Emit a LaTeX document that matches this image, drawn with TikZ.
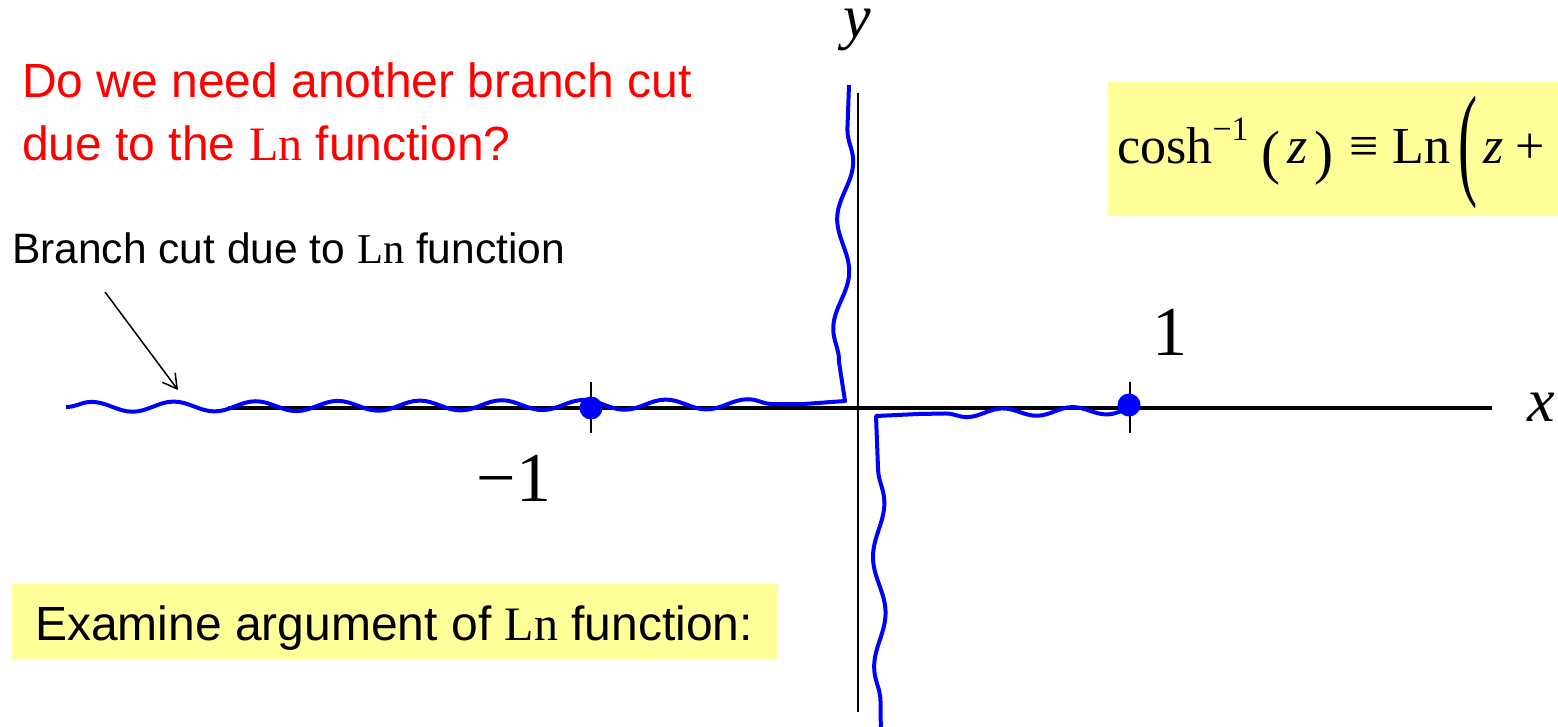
\documentclass[tikz,border=0pt]{standalone}
\usepackage{fontspec}
\setmainfont{Liberation Sans}
\newfontfamily\tms{Liberation Serif}
\usepackage{graphicx}
\usetikzlibrary{arrows.meta, decorations.pathmorphing}

\definecolor{hilite}{HTML}{FFFF99}
\definecolor{cutblue}{HTML}{0000FF}
\newcommand{\Ln}{{\tms Ln}}

\begin{document}
\begin{tikzpicture}[
  x=1pt, y=-1pt,
  txt/.style={inner sep=0pt, anchor=base west},
  big/.style={font=\fontsize{48}{63}\selectfont},
  numlab/.style={inner sep=0pt, anchor=base, font=\tms\fontsize{70}{70}\selectfont},
  axlab/.style={inner sep=0pt, anchor=base west, font=\tms\itshape\fontsize{62}{62}\selectfont},
  axis/.style={line width=3.5pt},
  tickmark/.style={line width=2pt},
  cutline/.style={cutblue, line width=4pt, line join=round},
  cut/.style={cutline, decorate, decoration={snake, amplitude=5pt, segment length=82pt}},
  vcut/.style={cutline, decorate, decoration={snake, amplitude=7pt, segment length=110pt}},
  dot/.style={circle, fill=cutblue, inner sep=0pt, minimum size=23pt},
  hbox/.style={fill=hilite, inner sep=0pt}
]
\useasboundingbox (0,0) rectangle (1558,726);

% highlighted boxes
\node[hbox, anchor=north west, minimum width=470pt, minimum height=134pt] (defbox) at (1108,82) {};
\node[txt, font=\tms\fontsize{52}{60}\selectfont] (defn) at (1117,163)
  {cosh\raisebox{0.44em}{\fontsize{34}{34}\selectfont −1}\hspace{13pt}\raisebox{-9pt}{\scalebox{1.1}[1.15]{(}}\hspace{7pt}\textit{z}\hspace{7pt}\raisebox{-9pt}{\scalebox{1.1}[1.15]{)}}\hspace{15pt}≡\hspace{14pt}Ln\hspace{8pt}\raisebox{-19pt}{\scalebox{1.1}[2.4]{(}}\hspace{6pt}\textit{z}\hspace{12pt}+\hspace{12pt}(\textit{z}+1)};
\node[hbox, anchor=north west, minimum width=766pt, minimum height=76pt] (exambox) at (12,584) {};
\node[txt, big] (exam) at (35,640) {Examine argument of \Ln\ function:};

% texts
\node[txt, big, red, align=left] (quest) at (22,160) {Do we need another branch cut\\due to the \Ln\ function?};
\node[txt, font=\fontsize{42.5}{50}\selectfont] (cutlab) at (12,263) {Branch cut due to \Ln\ function};

% axes
\coordinate (xmin) at (228,408);
\coordinate (xmax) at (1492,408);
\coordinate (ymin) at (858,712);
\coordinate (ymax) at (858,93);
\draw[axis] (xmin) -- (xmax);
\draw[line width=2.5pt] (ymin) -- (ymax);
\node[axlab] (xlab) at (1527,421) {x};
\node[axlab] (ylab) at (843,37) {y};

% ticks and labels
\draw[tickmark] (591,382) -- (591,433);
\draw[tickmark] (1130,382) -- (1130,433);
\node[numlab] (mone) at (514,501) {−1};
\node[numlab] (one) at (1170,355) {1};

% branch cuts
\coordinate (c1) at (66,407);
\coordinate (c2) at (804,404);
\coordinate (c3) at (845,401);
\coordinate (c4) at (839,362);
\coordinate (c5) at (849,85);
\draw[cut] (c1) -- (c2);
\draw[cutline] (c2) -- (c3) -- (c4);
\draw[vcut] (c4) -- (c5);
\coordinate (d1) at (1129,410);
\coordinate (d2) at (918,414);
\coordinate (d3) at (876,416);
\coordinate (d4) at (878,468);
\coordinate (d5) at (881,745);
\draw[cut, decoration={amplitude=4pt, segment length=70pt}] (d1) -- (d2);
\draw[cutline] (d2) -- (d3) -- (d4);
\draw[vcut, decoration={amplitude=6pt}] (d4) -- (d5);
\node[dot] (pm) at (591,408) {};
\node[dot] (pp) at (1129,405) {};

% arrow to the cut
\coordinate (arrtail) at (105,292);
\coordinate (arrhead) at (178,390);
\draw[-{Straight Barb[length=14pt, width=16pt]}, line width=1.5pt] (arrtail) -- (arrhead);
\end{tikzpicture}
\end{document}
